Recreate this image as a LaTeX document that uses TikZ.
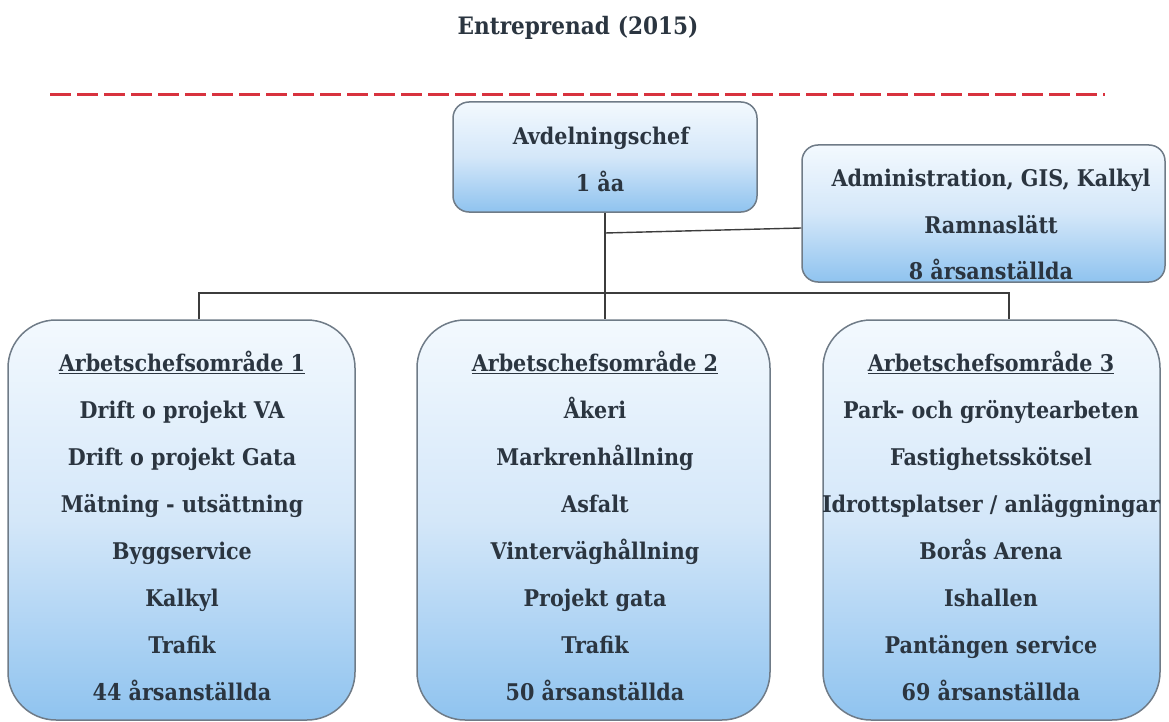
\documentclass[tikz,border=0pt]{standalone}
\usepackage{fontspec}
\setmainfont{DejaVu Serif Condensed}[BoldFont={DejaVu Serif Condensed Bold}]
\usetikzlibrary{calc}
\definecolor{txt}{HTML}{2B3540}
\definecolor{edge}{HTML}{6F7B87}
\definecolor{gtop}{HTML}{F3F9FE}
\definecolor{gmid}{HTML}{D4E7F9}
\definecolor{gbot}{HTML}{8FC3EF}
\definecolor{dashred}{HTML}{D8323E}
\definecolor{linec}{HTML}{3C3C3C}
\begin{document}
\begin{tikzpicture}[x=1pt,y=-1pt,
  box/.style={draw=edge, line width=1.5pt, top color=gtop, bottom color=gbot, middle color=gmid, inner sep=0pt},
  bigbox/.style={box, rounded corners=48pt, minimum height=400pt},
  smallbox/.style={box, rounded corners=16pt},
  lbl/.style={font=\fontsize{23}{28}\selectfont\bfseries, text=txt, anchor=base, inner sep=0pt},
  conn/.style={draw=linec, line width=1.4pt}]
\useasboundingbox (0,0) rectangle (1169,722);
% title and dashed rule
\node[lbl, font=\fontsize{24}{28}\selectfont\bfseries] (title) at (578,35) {Entreprenad\hspace{8pt}(2015)};
\coordinate (rl) at (50,95);
\coordinate (rr) at (1105,95);
\draw[dashred, line width=3pt, dash pattern=on 21pt off 6pt] (rl) -- (rr);
% boxes
\node[smallbox, minimum width=304pt, minimum height=110pt] (avd) at (605,157) {};
\node[smallbox, minimum width=363pt, minimum height=137pt] (adm) at (983.5,213.5) {};
\node[bigbox, minimum width=347pt] (b1) at (181.5,520) {};
\node[bigbox, minimum width=353pt] (b2) at (593.5,520) {};
\node[bigbox, minimum width=337pt] (b3) at (991.5,520) {};
% connectors
\coordinate (j) at (605,233);
\coordinate (d1) at (199,293);
\coordinate (d3) at (1009,293);
\draw[conn] (avd.south) -- (avd.south |- b2.north);
\draw[conn] (j) -- ([yshift=-14.5pt]adm.west);
\draw[conn] (d1 |- b1.north) -- (d1) -- (d3) -- (d3 |- b3.north);
% texts
\node[lbl] (avd1) at (601,145) {Avdelningschef};
\node[lbl] (avd2) at (600,192) {1 åa};
\node[lbl] (adm1) at (991,186) {Administration, GIS, Kalkyl};
\node[lbl] (adm2) at (991,233) {Ramnaslätt};
\node[lbl] (adm3) at (991,279) {8 årsanställda};
\foreach \t [count=\i] in {{\underline{Arbetschefsområde 1}},{Drift o projekt VA},{Drift o projekt Gata},{Mätning - utsättning},{Byggservice},{Kalkyl},{Trafik},{44 årsanställda}}
  \node[lbl] (ta\i) at (182,{371+47*(\i-1)}) {\t};
\foreach \t [count=\i] in {{\underline{Arbetschefsområde 2}},{Åkeri},{Markrenhållning},{Asfalt},{Vinterväghållning},{Projekt gata},{Trafik},{50 årsanställda}}
  \node[lbl] (tb\i) at (595,{371+47*(\i-1)}) {\t};
\foreach \t [count=\i] in {{\underline{Arbetschefsområde 3}},{Park- och grönytearbeten},{Fastighetsskötsel},{Idrottsplatser / anläggningar},{Borås Arena},{Ishallen},{Pantängen service},{69 årsanställda}}
  \node[lbl] (tc\i) at (991,{371+47*(\i-1)}) {\t};
\end{tikzpicture}
\end{document}
